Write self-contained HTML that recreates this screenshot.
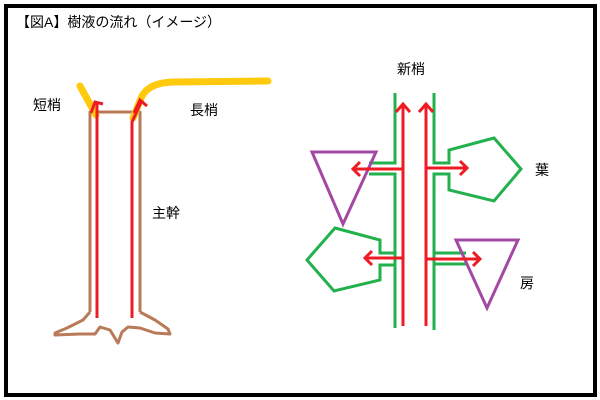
<!DOCTYPE html>
<html><head><meta charset="utf-8"><style>
html,body{margin:0;padding:0;background:#fff;}
svg{display:block;}
text{font-family:"Liberation Sans","Noto Sans CJK JP",sans-serif;font-size:14px;fill:#000;}
</style></head><body>
<svg width="600" height="400" viewBox="0 0 600 400">
<rect x="0" y="0" width="600" height="400" fill="#fff"/>
<rect x="6" y="6" width="589" height="389" fill="none" stroke="#000" stroke-width="4"/>
<text x="16" y="27">【図A】樹液の流れ（イメージ）</text>
<text x="33" y="110">短梢</text>
<text x="190" y="115">長梢</text>
<text x="152" y="218">主幹</text>
<text x="397" y="74">新梢</text>
<text x="535" y="175">葉</text>
<text x="520" y="288">房</text>
<!-- trunk -->
<g fill="none" stroke="#b97a57" stroke-width="3" stroke-linejoin="round">
<path d="M90 312 V112 H140 V312"/>
<path d="M90 312 L83 320 L67 328 L55 333 L55 335 L80 334 L95 334 L100 327 L110 330 L118 343 L122 332 L128 327 L140 328 L155 333 L170 334 L168 329 L155 320 L140 312"/>
</g>
<!-- yellow -->
<g fill="none" stroke="#ffc90e" stroke-width="7" stroke-linecap="round">
<path d="M80 86 L96 115"/>
<path d="M133 118 L142 96 Q150 82 175 82 L268 81"/>
</g>
<!-- red trunk -->
<g fill="none" stroke="#ed1c24" stroke-width="3">
<path d="M97 318 V103"/>
<path d="M91 113 L95 102 L103 104"/>
<path d="M132 318 V122 L142 100"/>
<path d="M134 113 L140 100 L147 106"/>
</g>
<!-- shoot green -->
<g fill="none" stroke="#22b14c" stroke-width="3">
<path d="M395 93 V163 H369"/>
<path d="M369 174 H395 V328"/>
<path d="M434 93 V163 H449 V150 L494 138 L521 169 L494 201 L449 190 V174 H434 V330"/>
<path d="M395 253 H380 V240 L335 228 L307 260 L334 291 L380 280 V265 H395"/>
<path d="M434 253 H466"/>
<path d="M434 264 H466"/>
</g>
<!-- triangles -->
<g fill="none" stroke="#a349a4" stroke-width="3" stroke-linejoin="miter">
<path d="M312 152 H376 L343 224 Z"/>
<path d="M456 240 H518 L487 308 Z"/>
</g>
<!-- red shoot -->
<g fill="none" stroke="#ed1c24" stroke-width="3">
<path d="M403 326 V104"/><path d="M396 112 L403 104 L410 112"/>
<path d="M426 326 V104"/><path d="M419 112 L426 104 L433 112"/>
<path d="M403 169 H353"/><path d="M360 162 L353 169 L360 176"/>
<path d="M426 168 H467"/><path d="M460 161 L467 168 L460 175"/>
<path d="M403 258 H365"/><path d="M372 251 L365 258 L372 265"/>
<path d="M426 259 H480"/><path d="M473 252 L480 259 L473 266"/>
</g>
</svg>
</body></html>
